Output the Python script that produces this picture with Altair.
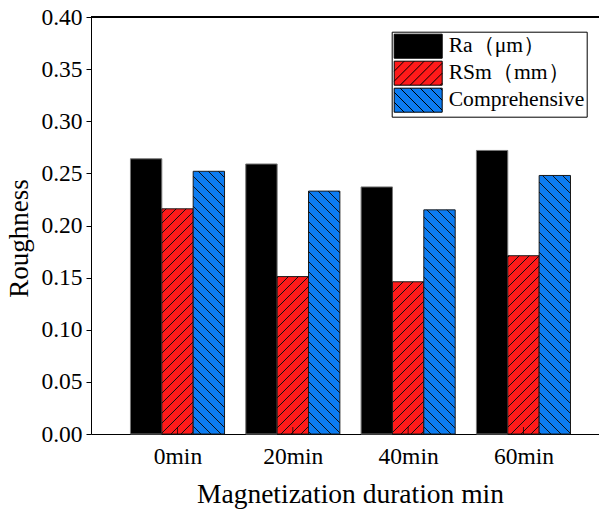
import json
import math
import altair as alt
import pandas as pd

# ---------------- data ----------------
groups = ["0min", "20min", "40min", "60min"]
series = ["Ra（μm）", "RSm（mm）", "Comprehensive"]
ra_values = [0.264, 0.259, 0.237, 0.272]
rsm_values = [0.216, 0.151, 0.146, 0.171]
comp_values = [0.252, 0.233, 0.215, 0.248]
y_ticks = [0.00, 0.05, 0.10, 0.15, 0.20, 0.25, 0.30, 0.35, 0.40]

# ---------------- style ----------------
colors = ["#000000", "#FF1A1A", "#0C7CF2"]
outlines = ["#777777", "#1A1A1A", "#1A1A1A"]
hatches = [None, "/", "\\"]
FONT = "Liberation Serif"

W, H = 508, 417
X_DOMAIN = [-0.75, 3.655]
Y_DOMAIN = [0.0, 0.4]
BAR_W = 0.272
STEP = 10.0  # hatch spacing, px (horizontal)

px_x = W / (X_DOMAIN[1] - X_DOMAIN[0])
px_y = H / (Y_DOMAIN[1] - Y_DOMAIN[0])

rows = []
for si, (name, vals) in enumerate(zip(series, [ra_values, rsm_values, comp_values])):
    for gi, v in enumerate(vals):
        x0 = gi + (si - 1.5) * BAR_W
        rows.append(dict(group=groups[gi], gi=gi, series=name, si=si,
                         value=v, x0=x0, x1=x0 + BAR_W))
bars = pd.DataFrame(rows)


def hatch_rows(r, kind):
    L = (r["x0"] - X_DOMAIN[0]) * px_x
    R = (r["x1"] - X_DOMAIN[0]) * px_x
    T = r["value"] * px_y
    out = []
    if kind == "/":  # y = x - c
        c = math.floor((L - T) / STEP) * STEP
        while c <= R:
            a, b = max(L, c), min(R, c + T)
            if b - a > 0.5:
                out.append((a, a - c, b, b - c))
            c += STEP
    else:  # y = c - x
        c = math.floor(L / STEP) * STEP
        while c <= R + T:
            a, b = max(L, c - T), min(R, c)
            if b - a > 0.5:
                out.append((a, c - a, b, c - b))
            c += STEP
    res = []
    for (xa, ya, xb, yb) in out:
        res.append(dict(series=r["series"],
                        hx1=X_DOMAIN[0] + xa / px_x, hy1=ya / px_y,
                        hx2=X_DOMAIN[0] + xb / px_x, hy2=yb / px_y))
    return res


hrows = []
for _, r in bars.iterrows():
    k = hatches[int(r["si"])]
    if k:
        hrows.extend(hatch_rows(r, k))
hatch_df = pd.DataFrame(hrows)


def legend_path(kind):
    u = 12.0
    L, R, T, B = -12.0, 36.0, -12.0, 12.0
    parts = [f"M{L/u},{T/u}H{R/u}V{B/u}H{L/u}Z"]
    c = L - 12
    while kind and c <= R + 12:
        a, b = max(L, c - 12), min(R, c + 12)
        if b - a > 0.5:
            if kind == "/":
                parts.append(f"M{a/u:.3f},{(c-a)/u:.3f}L{b/u:.3f},{(c-b)/u:.3f}")
            else:
                parts.append(f"M{a/u:.3f},{(a-c)/u:.3f}L{b/u:.3f},{(b-c)/u:.3f}")
        c += STEP
    return "".join(parts)


paths = [legend_path(k) for k in hatches]

xscale = alt.Scale(domain=X_DOMAIN, nice=False, zero=False)
yscale = alt.Scale(domain=Y_DOMAIN, nice=False, zero=True)

label_expr = json.dumps(groups) + "[datum.value]"

xaxis = alt.Axis(
    orient="bottom", values=list(range(len(groups))), labelExpr=label_expr,
    ticks=False, grid=False, domain=True, domainColor="black", domainWidth=1,
    labelFont=FONT, labelFontSize=23.5, labelColor="black", labelPadding=10,
    title="Magnetization duration min", titleFont=FONT, titleFontSize=27.5,
    titleFontWeight="normal", titleColor="black", titleX=259, titleY=68,
    titleBaseline="alphabetic", titleAlign="center")
yaxis = alt.Axis(
    orient="left", values=y_ticks, format=".2f", grid=False, domainColor="black",
    domainWidth=1, tickColor="black", tickSize=5, tickWidth=1, labelFont=FONT,
    labelFontSize=23.5, labelColor="black", labelPadding=4, title="Roughness",
    titleFont=FONT, titleFontSize=27, titleFontWeight="normal", titleColor="black",
    titleAngle=270, titleX=-58, titleY=221, titleBaseline="bottom", titleAlign="center")

XT = "Magnetization duration min"
YT = "Roughness"

layers = []
for si, name in enumerate(series):
    layers.append(
        alt.Chart(bars).transform_filter(alt.datum.series == name)
        .mark_bar(fill=colors[si], stroke=outlines[si], strokeWidth=1)
        .encode(x=alt.X("x0:Q", scale=xscale, axis=xaxis, title=XT),
                x2="x1:Q",
                y=alt.Y("value:Q", scale=yscale, axis=yaxis, title=YT),
                y2=alt.Y2Datum(0))
    )

hatch_layer = alt.Chart(hatch_df).mark_rule(color="#111111", strokeWidth=1).encode(
    x=alt.X("hx1:Q", scale=xscale, axis=xaxis, title=XT),
    x2="hx2:Q",
    y=alt.Y("hy1:Q", scale=yscale, axis=yaxis, title=YT),
    y2="hy2:Q",
)

# top frame line at the top of the value domain
top_layer = alt.Chart(bars).mark_rule(color="black", strokeWidth=1).encode(
    y=alt.YDatum(Y_DOMAIN[1], scale=yscale, axis=yaxis, title=YT),
)

tick_df = pd.DataFrame({"gi": list(range(len(groups))), "group": groups})
tick_layer = alt.Chart(tick_df).mark_tick(
    orient="vertical", size=14, thickness=1, color="black", clip=True
).encode(
    x=alt.X("gi:Q", scale=xscale, axis=xaxis, title=XT),
    y=alt.YDatum(0, scale=yscale, axis=yaxis, title=YT),
)

leg = dict(title=None, orient="none", legendX=300.7, legendY=14.7, padding=2,
           rowPadding=-2, labelOffset=30, symbolSize=576, symbolStrokeColor="black",
           symbolStrokeWidth=1, symbolOpacity=1, labelFont=FONT, labelFontSize=21.6,
           labelColor="black", labelLimit=400, strokeColor="black", fillColor="white")

legend_layer = alt.Chart(bars).transform_filter("false").mark_point(
    filled=True, opacity=1, strokeWidth=1
).encode(
    x=alt.X("gi:Q", scale=xscale, axis=xaxis, title=XT),
    y=alt.Y("value:Q", scale=yscale, axis=yaxis, title=YT),
    fill=alt.Fill("series:N", scale=alt.Scale(domain=series, range=colors),
                  legend=alt.Legend(**leg)),
    shape=alt.Shape("series:N", scale=alt.Scale(domain=series, range=paths),
                    legend=alt.Legend(**leg)),
    stroke=alt.Stroke("series:N", scale=alt.Scale(domain=series, range=["black"] * len(series)),
                      legend=alt.Legend(**leg)),
)

chart = alt.layer(*layers, hatch_layer, top_layer, tick_layer, legend_layer).properties(
    width=W, height=H,
    autosize=alt.AutoSizeParams(type="none"),
    padding={"left": 91, "top": 17, "right": 0, "bottom": 78},
).configure_view(stroke=None).configure(font=FONT)

chart.save("out.html", embed_options={"renderer": "svg", "actions": False})
